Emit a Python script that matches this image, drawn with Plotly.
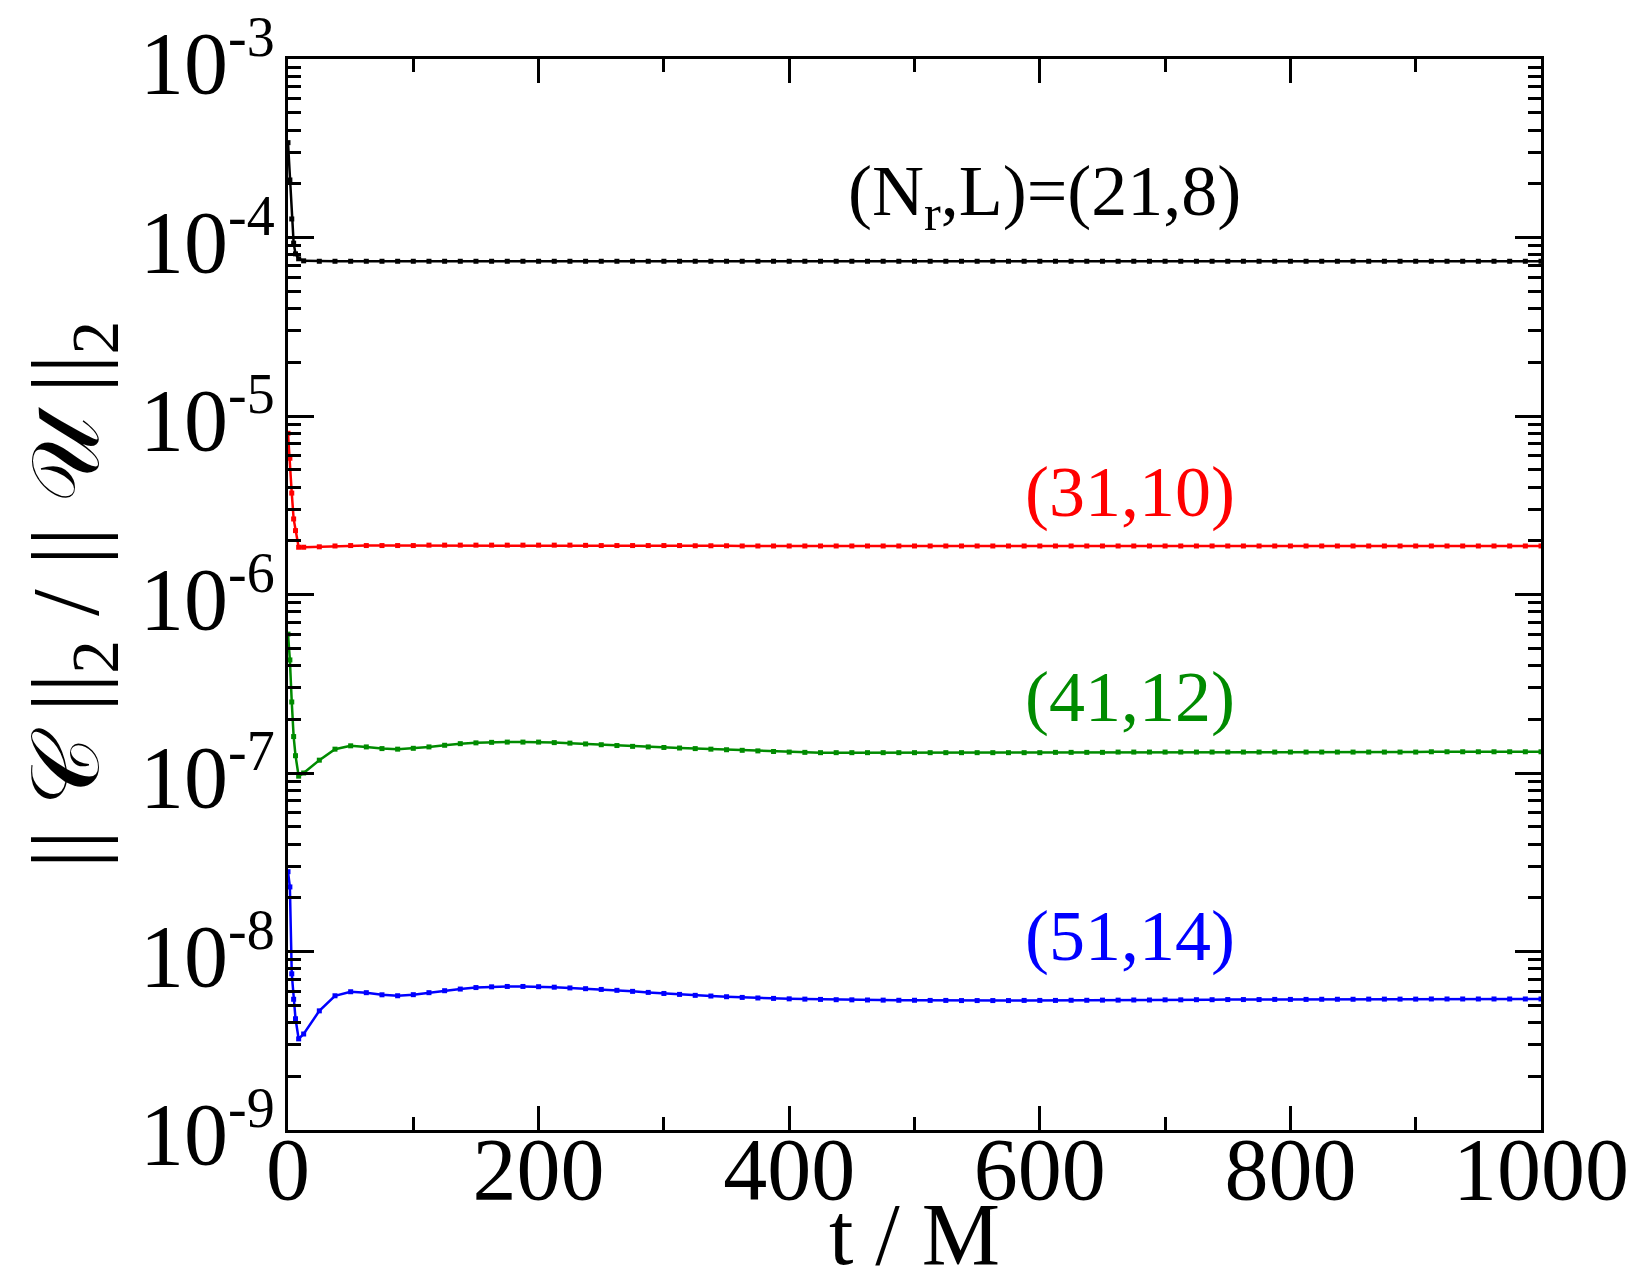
import plotly.graph_objects as go

# sample times (t / M)
T = [0, 1.5, 3, 4.5, 6, 8.5,
     12.5, 25, 37.5, 50, 62.5, 75, 87.5, 100,
     112.5, 125, 137.5, 150, 162.5, 175, 187.5, 200,
     212.5, 225, 237.5, 250, 262.5, 275, 287.5, 300,
     312.5, 325, 337.5, 350, 362.5, 375, 387.5, 400,
     412.5, 425, 437.5, 450, 462.5, 475, 487.5, 500,
     512.5, 525, 537.5, 550, 562.5, 575, 587.5, 600,
     612.5, 625, 637.5, 650, 662.5, 675, 687.5, 700,
     712.5, 725, 737.5, 750, 762.5, 775, 787.5, 800,
     812.5, 825, 837.5, 850, 862.5, 875, 887.5, 900,
     912.5, 925, 937.5, 950, 962.5, 975, 987.5, 1000]

# (Nr,L)=(21,8)
res_21_8 = [3.4e-4, 2.1e-4, 1.27e-4, 9.3e-5, 8.1e-5, 7.6e-5,
            7.4e-5, 7.36e-5, 7.36e-5, 7.36e-5, 7.36e-5, 7.36e-5, 7.36e-5, 7.36e-5,
            7.36e-5, 7.36e-5, 7.36e-5, 7.36e-5, 7.36e-5, 7.36e-5, 7.36e-5, 7.36e-5,
            7.36e-5, 7.36e-5, 7.36e-5, 7.36e-5, 7.36e-5, 7.36e-5, 7.36e-5, 7.36e-5,
            7.36e-5, 7.36e-5, 7.36e-5, 7.36e-5, 7.36e-5, 7.36e-5, 7.36e-5, 7.36e-5,
            7.36e-5, 7.36e-5, 7.36e-5, 7.36e-5, 7.36e-5, 7.36e-5, 7.36e-5, 7.36e-5,
            7.36e-5, 7.36e-5, 7.36e-5, 7.36e-5, 7.36e-5, 7.36e-5, 7.36e-5, 7.36e-5,
            7.36e-5, 7.36e-5, 7.36e-5, 7.36e-5, 7.36e-5, 7.36e-5, 7.36e-5, 7.36e-5,
            7.36e-5, 7.36e-5, 7.36e-5, 7.36e-5, 7.36e-5, 7.36e-5, 7.36e-5, 7.36e-5,
            7.36e-5, 7.36e-5, 7.36e-5, 7.36e-5, 7.36e-5, 7.36e-5, 7.36e-5, 7.36e-5,
            7.36e-5, 7.36e-5, 7.36e-5, 7.36e-5, 7.36e-5, 7.36e-5, 7.36e-5, 7.36e-5]

# (31,10)
res_31_10 = [8.0e-6, 5.8e-6, 3.7e-6, 2.65e-6, 2.28e-6, 1.84e-6,
             1.84e-6, 1.85e-6, 1.87e-6, 1.88e-6, 1.88e-6, 1.88e-6, 1.88e-6, 1.88e-6,
             1.89e-6, 1.89e-6, 1.89e-6, 1.89e-6, 1.89e-6, 1.89e-6, 1.89e-6, 1.89e-6,
             1.89e-6, 1.89e-6, 1.885e-6, 1.88e-6, 1.88e-6, 1.88e-6, 1.88e-6, 1.88e-6,
             1.88e-6, 1.875e-6, 1.875e-6, 1.875e-6, 1.87e-6, 1.87e-6, 1.87e-6, 1.87e-6,
             1.87e-6, 1.87e-6, 1.87e-6, 1.87e-6, 1.87e-6, 1.87e-6, 1.87e-6, 1.87e-6,
             1.87e-6, 1.87e-6, 1.87e-6, 1.87e-6, 1.87e-6, 1.87e-6, 1.87e-6, 1.87e-6,
             1.87e-6, 1.87e-6, 1.87e-6, 1.87e-6, 1.87e-6, 1.87e-6, 1.87e-6, 1.87e-6,
             1.87e-6, 1.87e-6, 1.87e-6, 1.87e-6, 1.87e-6, 1.87e-6, 1.87e-6, 1.87e-6,
             1.87e-6, 1.87e-6, 1.87e-6, 1.87e-6, 1.87e-6, 1.87e-6, 1.87e-6, 1.87e-6,
             1.87e-6, 1.87e-6, 1.87e-6, 1.87e-6, 1.87e-6, 1.87e-6, 1.87e-6, 1.87e-6]

# (41,12)
res_41_12 = [6.0e-7, 4.3e-7, 2.5e-7, 1.6e-7, 1.25e-7, 9.6e-8,
             1.0e-7, 1.18e-7, 1.36e-7, 1.42e-7, 1.40e-7, 1.37e-7, 1.36e-7, 1.375e-7,
             1.40e-7, 1.43e-7, 1.46e-7, 1.475e-7, 1.485e-7, 1.49e-7, 1.49e-7, 1.49e-7,
             1.48e-7, 1.47e-7, 1.455e-7, 1.44e-7, 1.425e-7, 1.41e-7, 1.40e-7, 1.39e-7,
             1.38e-7, 1.37e-7, 1.36e-7, 1.35e-7, 1.34e-7, 1.33e-7, 1.32e-7, 1.31e-7,
             1.305e-7, 1.30e-7, 1.30e-7, 1.30e-7, 1.30e-7, 1.30e-7, 1.30e-7, 1.30e-7,
             1.30e-7, 1.30e-7, 1.30e-7, 1.30e-7, 1.30e-7, 1.30e-7, 1.30e-7, 1.30e-7,
             1.305e-7, 1.305e-7, 1.305e-7, 1.305e-7, 1.31e-7, 1.31e-7, 1.31e-7, 1.31e-7,
             1.31e-7, 1.31e-7, 1.31e-7, 1.31e-7, 1.31e-7, 1.31e-7, 1.31e-7, 1.31e-7,
             1.31e-7, 1.31e-7, 1.31e-7, 1.31e-7, 1.31e-7, 1.31e-7, 1.31e-7, 1.31e-7,
             1.315e-7, 1.315e-7, 1.315e-7, 1.315e-7, 1.315e-7, 1.315e-7, 1.315e-7, 1.315e-7]

# (51,14)
res_51_14 = [2.8e-8, 2.3e-8, 7.5e-9, 5.4e-9, 4.2e-9, 3.24e-9,
             3.45e-9, 4.65e-9, 5.65e-9, 5.95e-9, 5.88e-9, 5.72e-9, 5.65e-9, 5.73e-9,
             5.88e-9, 6.03e-9, 6.16e-9, 6.28e-9, 6.34e-9, 6.37e-9, 6.37e-9, 6.35e-9,
             6.31e-9, 6.25e-9, 6.19e-9, 6.13e-9, 6.06e-9, 5.98e-9, 5.90e-9, 5.82e-9,
             5.75e-9, 5.68e-9, 5.63e-9, 5.58e-9, 5.53e-9, 5.49e-9, 5.46e-9, 5.43e-9,
             5.41e-9, 5.39e-9, 5.37e-9, 5.36e-9, 5.35e-9, 5.34e-9, 5.33e-9, 5.33e-9,
             5.32e-9, 5.32e-9, 5.31e-9, 5.31e-9, 5.31e-9, 5.31e-9, 5.32e-9, 5.32e-9,
             5.32e-9, 5.33e-9, 5.33e-9, 5.34e-9, 5.34e-9, 5.35e-9, 5.35e-9, 5.36e-9,
             5.36e-9, 5.37e-9, 5.37e-9, 5.38e-9, 5.38e-9, 5.38e-9, 5.39e-9, 5.39e-9,
             5.39e-9, 5.40e-9, 5.40e-9, 5.40e-9, 5.41e-9, 5.41e-9, 5.41e-9, 5.41e-9,
             5.42e-9, 5.42e-9, 5.42e-9, 5.42e-9, 5.42e-9, 5.42e-9, 5.42e-9, 5.42e-9]

series = [("(N<sub>r</sub>,L)=(21,8)", res_21_8, "black"),
          ("(31,10)", res_31_10, "#ff0000"),
          ("(41,12)", res_41_12, "#008b00"),
          ("(51,14)", res_51_14, "#0000ff")]

# label positions (t, log10 of value)
label_pos = [(604, -4.03), (672, -5.66), (672, -6.81), (672, -8.15)]

# y decades and their labels
Y_EXP = [-9, -8, -7, -6, -5, -4, -3]
Y_SUP = ["-9", "-8", "-7", "-6", "-5", "-4", "-3"]

FONT = "Liberation Serif"

fig = go.Figure()
for name, vals, col in series:
    fig.add_trace(go.Scatter(
        x=T, y=vals, mode="lines+markers", name=name,
        line=dict(color=col, width=2.5),
        marker=dict(symbol="square", size=5, color=col),
        showlegend=False
    ))

for (name, vals, col), (lx, ly) in zip(series, label_pos):
    fig.add_annotation(x=lx, y=ly, xref="x", yref="y", text=name,
                       showarrow=False, xanchor="center", yanchor="bottom",
                       font=dict(family=FONT, size=72, color=col))

# y tick labels: the whole "10^n" block is centred on its tick
for e, sup in zip(Y_EXP, Y_SUP):
    txt = "10<sup><span style='font-size:56px'>" + sup + "</span></sup>"
    fig.add_annotation(x=0, y=e, xref="paper", yref="y", text=txt,
                       showarrow=False, xanchor="right", yanchor="middle",
                       xshift=-11, font=dict(family=FONT, size=88, color="black"))

# y axis title, rotated, left of the tick labels
fig.add_annotation(x=0, y=0.5, xref="paper", yref="paper",
                   text="|| 𝒞 ||<sub>2</sub> / || 𝒰 ||<sub>2</sub>",
                   textangle=-90, showarrow=False, xanchor="center", yanchor="middle",
                   xshift=-216, font=dict(family=FONT, size=96, color="black"))

axis_common = dict(
    showline=True, linecolor="black", linewidth=3, mirror="allticks",
    ticks="inside", tickcolor="black", tickwidth=3,
    showgrid=False, zeroline=False,
)

fig.update_xaxes(
    range=[0, 1000], dtick=200, tick0=0, ticklen=24,
    minor=dict(dtick=100, ticks="inside", ticklen=13, tickwidth=2.5, tickcolor="black"),
    tickfont=dict(family=FONT, size=88, color="black"),
    title=dict(text="t / M", font=dict(family=FONT, size=88, color="black"), standoff=6),
    ticklabelstandoff=-40,
    **axis_common
)
fig.update_yaxes(
    type="log", range=[-9, -3], tickmode="array", tickvals=[10.0 ** e for e in Y_EXP],
    showticklabels=False, ticklen=26,
    minor=dict(dtick="D1", ticks="inside", ticklen=13, tickwidth=2.5, tickcolor="black"),
    **axis_common
)

fig.update_layout(
    width=1650, height=1275,
    margin=dict(l=280, r=117, t=51, b=153, autoexpand=False),
    plot_bgcolor="white", paper_bgcolor="white",
    font=dict(family=FONT, color="black"),
)

fig.write_html("out.html")
